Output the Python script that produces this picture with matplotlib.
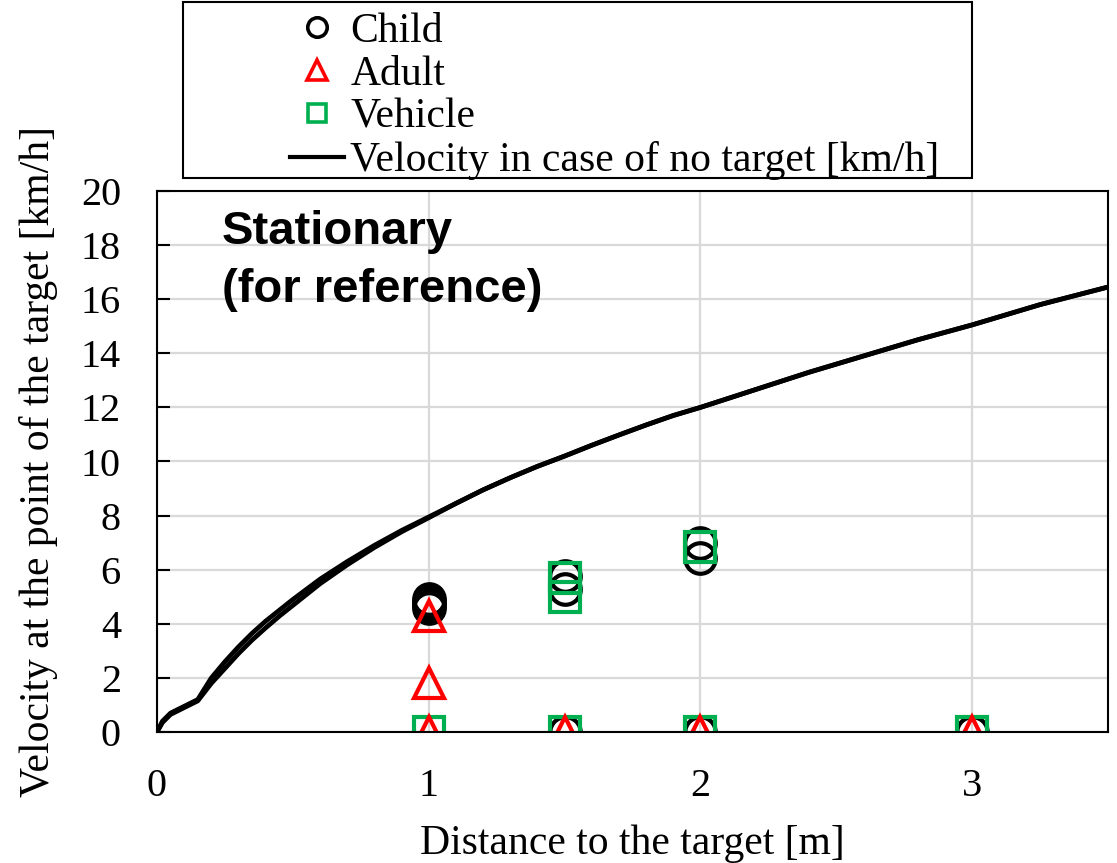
import matplotlib
matplotlib.use("Agg")
import matplotlib.pyplot as plt
from matplotlib.lines import Line2D
from matplotlib.patches import Rectangle

# ---- data ----
curve_d = [0, 0.02, 0.05, 0.10, 0.15, 0.20, 0.25, 0.30, 0.35, 0.40, 0.45, 0.50,
           0.60, 0.70, 0.80, 0.90, 1.00, 1.10, 1.20, 1.30, 1.40, 1.50, 1.60,
           1.70, 1.80, 1.90, 2.00, 2.20, 2.40, 2.60, 2.80, 3.00, 3.25, 3.50]
curve_v1 = [0, 0.40, 0.70, 0.95, 1.20, 2.00, 2.60, 3.15, 3.65, 4.10, 4.50, 4.90,
            5.65, 6.30, 6.90, 7.45, 7.95, 8.45, 8.95, 9.40, 9.82, 10.20, 10.60,
            10.98, 11.35, 11.70, 12.00, 12.65, 13.30, 13.90, 14.50, 15.05, 15.80, 16.45]
curve_v2 = [0, 0.35, 0.65, 0.90, 1.15, 1.80, 2.35, 2.90, 3.40, 3.85, 4.28, 4.68,
            5.48, 6.18, 6.82, 7.40, 7.92, 8.45, 8.95, 9.40, 9.82, 10.20, 10.60,
            10.98, 11.35, 11.70, 12.00, 12.65, 13.30, 13.90, 14.50, 15.05, 15.80, 16.45]

child_x = [1, 1, 1, 1, 1.5, 1.5, 1.5, 2, 2, 2, 3]
child_v = [4.9, 4.8, 4.7, 4.6, 5.75, 5.3, 0, 7.0, 6.45, 0, 0]

adult_x = [1, 1, 1, 1.5, 2, 3]
adult_v = [4.3, 1.8, 0, 0, 0, 0]

vehicle_x = [1, 1.5, 1.5, 1.5, 2, 2, 3]
vehicle_v = [0, 5.7, 5.0, 0, 6.85, 0, 0]

xticks = [0, 1, 2, 3]
yticks = list(range(0, 21, 2))

legend_labels = ["Child", "Adult", "Vehicle", "Velocity in case of no target [km/h]"]

# ---- figure ----
plt.rcParams['font.family'] = ['Liberation Serif', 'DejaVu Serif']
fig = plt.figure(figsize=(11.17, 8.63), dpi=100)
ax = fig.add_axes([157/1117, 1 - 732/863, (1108 - 157)/1117, (732 - 191)/863])

ax.set_xlim(0, 3.5)
ax.set_ylim(0, 20)
ax.set_xticks(xticks)
ax.set_yticks(yticks)
ax.grid(True, color='#d9d9d9', linewidth=1.6)
ax.set_axisbelow(True)

ax.plot(curve_d, curve_v1, color='black', lw=3.4, zorder=3, solid_capstyle='round')
ax.plot(curve_d, curve_v2, color='black', lw=3.4, zorder=3, solid_capstyle='round')

ms = 22
mew = 3.0
ax.plot(child_x, child_v, ls='none', marker='o', ms=ms, mfc='none', mec='black', mew=mew, zorder=4)
ax.plot(vehicle_x, vehicle_v, ls='none', marker='s', ms=ms - 1, mfc='none', mec='#00b050', mew=mew, zorder=5)
ax.plot(adult_x, adult_v, ls='none', marker='^', ms=ms, mfc='none', mec='#ff0000', mew=mew, zorder=6)

for s in ax.spines.values():
    s.set_linewidth(1.5)
    s.set_color('black')
    s.set_zorder(7)

ax.tick_params(axis='y', direction='in', length=9, width=1.5, pad=26, labelsize=29)
ax.tick_params(axis='x', length=0, pad=26, labelsize=29)

ax.set_xlabel("Distance to the target [m]", fontsize=30, labelpad=14)
ax.set_ylabel("Velocity at the point of the target [km/h]", fontsize=30, labelpad=16)

ax.text(0.068, 0.965, "Stationary\n(for reference)", transform=ax.transAxes,
        family=['Liberation Sans', 'DejaVu Sans'], fontweight='bold', fontsize=34,
        va='top', ha='left', linespacing=1.4, zorder=8)

# ---- legend ----
handles = [
    Line2D([], [], ls='none', marker='o', ms=14, mfc='none', mec='black', mew=2.6),
    Line2D([], [], ls='none', marker='^', ms=14, mfc='none', mec='#ff0000', mew=2.6),
    Line2D([], [], ls='none', marker='s', ms=13, mfc='none', mec='#00b050', mew=2.6),
    Line2D([], [], color='black', lw=3),
]
leg = fig.legend(handles, legend_labels, loc='upper left',
                 bbox_to_anchor=(290/1117, 1 - 12/863), frameon=False,
                 fontsize=30, handlelength=1.3, handletextpad=0.15,
                 labelspacing=0.11, borderpad=0.0, borderaxespad=0.0)
fig.patches.append(Rectangle((183/1117, 1 - 178/863), (972 - 183)/1117, (178 - 2)/863,
                             transform=fig.transFigure, fill=False, edgecolor='black',
                             linewidth=1.5))

fig.savefig("out.png", dpi=100)
